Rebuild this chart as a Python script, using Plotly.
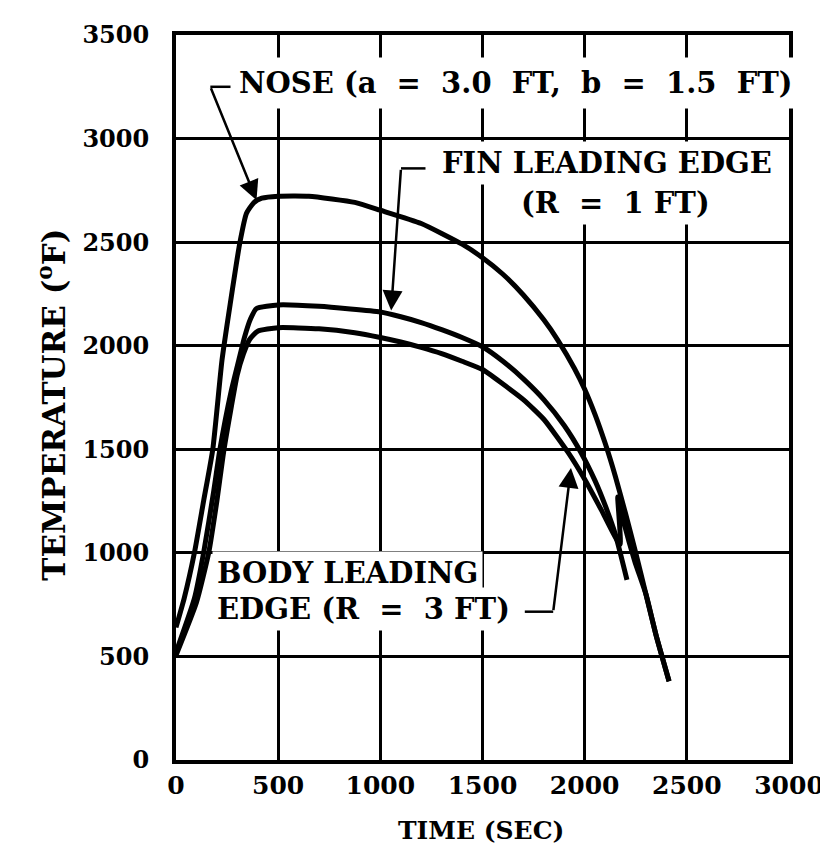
import plotly.graph_objects as go

# ---- data ----
nose_t = [0, 40, 90, 135, 180, 225, 265, 313, 345, 380, 420, 500, 650, 875, 1000, 1200, 1400, 1500, 1600, 1700, 1800, 1870, 1950, 2000, 2050, 2100, 2150, 2200, 2250, 2300, 2350, 2413]
nose_T = [640, 780, 1000, 1250, 1500, 1930, 2200, 2500, 2640, 2690, 2712, 2722, 2722, 2692, 2654, 2590, 2490, 2425, 2345, 2245, 2125, 2025, 1890, 1790, 1670, 1530, 1370, 1190, 1000, 800, 600, 380]

fin_t = [0, 90, 135, 185, 215, 270, 308, 335, 365, 394, 500, 700, 1000, 1100, 1200, 1300, 1400, 1500, 1600, 1700, 1800, 1900, 1981, 2050, 2100, 2150, 2207]
fin_T = [520, 780, 1000, 1300, 1500, 1780, 1933, 2040, 2130, 2180, 2197, 2190, 2163, 2140, 2112, 2078, 2040, 1995, 1925, 1840, 1740, 1615, 1486, 1350, 1230, 1090, 870]

body_t = [0, 100, 160, 200, 235, 300, 330, 360, 400, 500, 700, 875, 1000, 1100, 1200, 1300, 1400, 1500, 1600, 1700, 1800, 1918, 2000, 2080, 2173, 2162, 2188, 2245, 2300, 2350, 2413]
body_T = [505, 760, 1000, 1250, 1500, 1860, 1960, 2030, 2070, 2087, 2082, 2063, 2040, 2018, 1992, 1962, 1925, 1885, 1815, 1740, 1645, 1486, 1355, 1210, 1040, 1270, 1160, 960, 800, 600, 380]

x_ticks = [0, 500, 1000, 1500, 2000, 2500, 3000]
y_ticks = [0, 500, 1000, 1500, 2000, 2500, 3000, 3500]

FONT = "DejaVu Serif"

fig = go.Figure()
for t, T in [(nose_t, nose_T), (fin_t, fin_T), (body_t, body_T)]:
    fig.add_trace(go.Scatter(x=t, y=T, mode="lines",
                             line=dict(color="black", width=5, shape="spline", smoothing=0.5),
                             showlegend=False, hoverinfo="skip"))

axis_common = dict(showgrid=True, gridcolor="black", gridwidth=2.5, zeroline=False,
                   showline=True, linecolor="black", linewidth=4, mirror=True, ticks="")

fig.update_xaxes(range=[0, 3000], tickvals=x_ticks, ticktext=[str(v) for v in x_ticks],
                 ticklabelstandoff=0,
                 tickfont=dict(family=FONT, size=25, color="black", weight="bold"), **axis_common)
fig.update_yaxes(range=[0, 3500], tickvals=y_ticks, ticktext=[str(v) for v in y_ticks],
                 ticklabelstandoff=18,
                 tickfont=dict(family=FONT, size=24, color="black", weight="bold"), **axis_common)

afont = dict(family=FONT, size=29, color="black", weight="bold")

annotations = [
    # text labels with white background boxes
    dict(x=264, y=3269, xref="x", yref="y", text="NOSE (a  =  3.0  FT,  b  =  1.5  FT)",
         showarrow=False, xanchor="left", yanchor="middle", font=afont, bgcolor="white", borderpad=8),
    dict(x=2110, y=2884, xref="x", yref="y", text="FIN LEADING EDGE",
         showarrow=False, xanchor="center", yanchor="middle", font=afont, bgcolor="white", borderpad=4),
    dict(x=2150, y=2690, xref="x", yref="y", text="(R  =  1 FT)",
         showarrow=False, xanchor="center", yanchor="middle", font=afont, bgcolor="white", borderpad=4),
    dict(x=178, y=903, xref="x", yref="y", text="BODY LEADING",
         showarrow=False, xanchor="left", yanchor="middle", font=afont, bgcolor="white", borderpad=4),
    dict(x=178, y=729, xref="x", yref="y", text="EDGE (R  =  3 FT)",
         showarrow=False, xanchor="left", yanchor="middle", font=afont, bgcolor="white", borderpad=4),
    # leader arrows
    dict(x=394, y=2702, ax=168, ay=3250, xref="x", yref="y", axref="x", ayref="y", text="",
         showarrow=True, arrowhead=2, arrowsize=1.6, arrowwidth=2.5, arrowcolor="black"),
    dict(x=1053, y=2170, ax=1101, ay=2856, xref="x", yref="y", axref="x", ayref="y", text="",
         showarrow=True, arrowhead=2, arrowsize=1.6, arrowwidth=2.5, arrowcolor="black"),
    dict(x=1933, y=1410, ax=1846, ay=716, xref="x", yref="y", axref="x", ayref="y", text="",
         showarrow=True, arrowhead=2, arrowsize=1.6, arrowwidth=2.5, arrowcolor="black"),
    # axis titles (pixel positions, converted below)
    dict(x=478, y=823, xref="paper", yref="paper", text="TIME (SEC)", showarrow=False,
         font=dict(family=FONT, size=25, color="black", weight="bold")),
    dict(x=42, y=395, xref="paper", yref="paper", text="TEMPERATURE (<sup>o</sup>F)", showarrow=False,
         textangle=-90, font=dict(family=FONT, size=31, color="black", weight="bold")),
]
W, H, L, R, T_, B = 828, 859, 168, 36, 24, 107
pw, ph = W - L - R, H - T_ - B
for a in annotations[-2:]:
    a["x"] = (a["x"] - L) / pw
    a["y"] = (H - B - a["y"]) / ph
    a["xanchor"] = "center"
    a["yanchor"] = "middle"

shapes = [
    dict(type="line", xref="x", yref="y", x0=168, y0=3250, x1=288, y1=3250, line=dict(color="black", width=2.5)),
    dict(type="line", xref="x", yref="y", x0=1101, y0=2856, x1=1221, y1=2856, line=dict(color="black", width=2.5)),
    dict(type="line", xref="x", yref="y", x0=1707, y0=716, x1=1846, y1=716, line=dict(color="black", width=2.5)),
]

fig.update_layout(width=W, height=H, margin=dict(l=L, r=R, t=T_, b=B),
                  paper_bgcolor="white", plot_bgcolor="white",
                  annotations=annotations, shapes=shapes, showlegend=False)

fig.write_html("out.html")
